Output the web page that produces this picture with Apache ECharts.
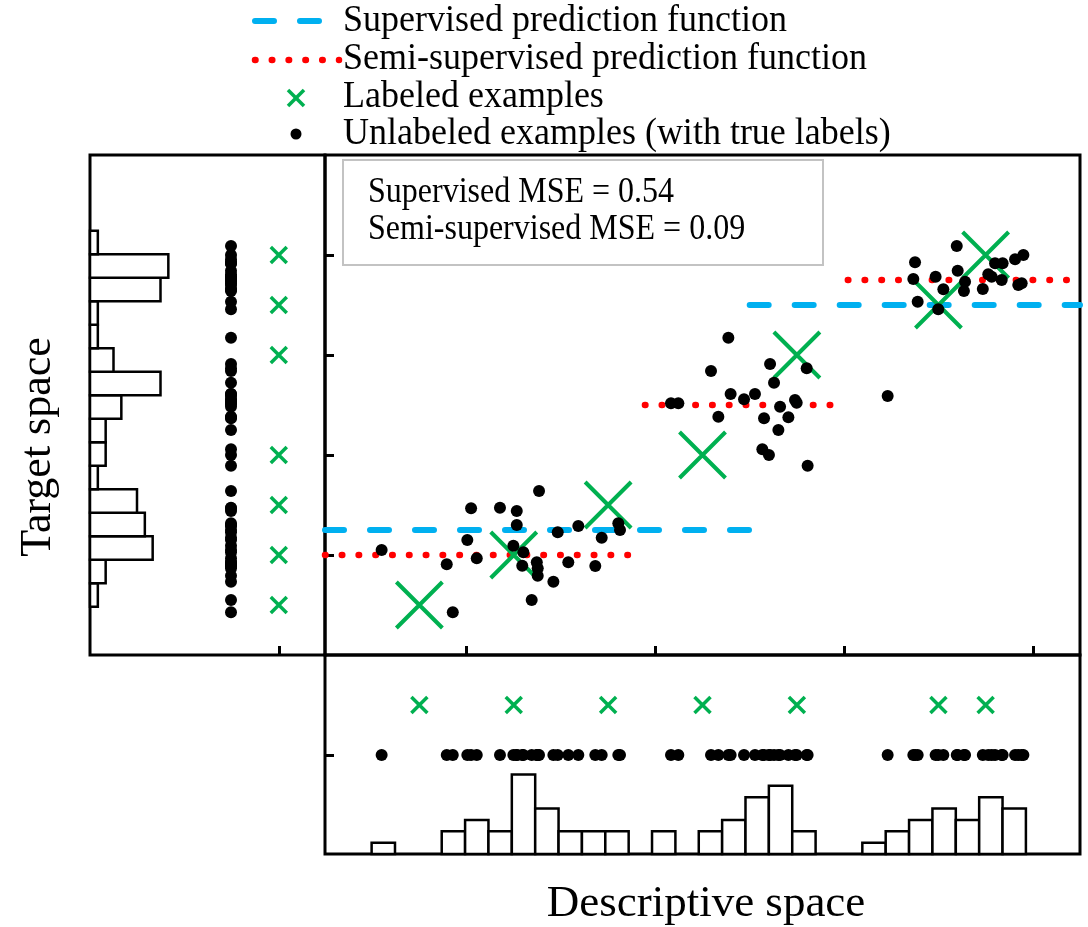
<!DOCTYPE html>
<html><head><meta charset="utf-8">
<script src="https://cdn.jsdelivr.net/npm/echarts@6/dist/echarts.min.js"></script>
<style>html,body{margin:0;padding:0;background:#fff}#c{width:1088px;height:927px}</style>
</head><body><div id="c"></div>
<script>
// ---------------- data ----------------
const labeledX = [0.75, 1.25, 1.75, 2.25, 2.75, 3.5, 3.75];
const labeledY = [0.5, 1, 1.5, 2, 3, 3.5, 4];

const unlabeledX = [
  0.55,0.895,0.927,1.024,1.004,1.054,1.177,1.266,1.266,1.248,1.301,1.295,1.384,1.372,1.377,1.377,1.345,1.46,1.483,1.539,1.592,1.682,1.716,1.804,1.813,
  2.083,2.122,2.295,2.387,2.334,2.399,2.47,2.528,2.608,2.629,2.576,2.661,2.652,2.705,2.74,2.749,2.802,2.567,2.602,2.807,
  3.231,3.376,3.367,3.39,3.499,3.485,3.526,3.597,3.602,3.641,3.635,3.735,3.764,3.8,3.84,3.782,3.835,3.906,3.95,3.923,3.941
];
const unlabeledY = [
  1.05,0.907,0.427,1.467,1.15,0.967,1.473,1.44,1.30,1.093,1.027,0.893,1.64,0.927,0.867,0.793,0.55,0.733,1.227,0.927,1.29,0.89,1.173,1.317,1.25,
  2.517,2.517,2.84,3.173,2.383,2.61,2.557,2.61,2.91,2.723,2.367,2.483,2.25,2.377,2.55,2.523,2.867,2.057,2.0,1.893,
  2.59,3.927,3.76,3.533,3.457,3.783,3.657,4.09,3.843,3.733,3.64,3.66,3.807,3.917,3.917,3.783,3.75,3.957,4.0,3.7,3.717
];

// step functions: [xStart, xEnd, yValue]
const supervisedSteps = [[0.25, 2.5, 1.25], [2.5, 4.25, 3.5]];
const semiSteps = [[0.25, 1.91, 1.0], [1.945, 2.99, 2.5], [3.02, 4.25, 3.75]];

// histogram of descriptive space (bottom)
const xHistStart = 0.497, xHistBin = 0.1238;
const xHistCounts = [1,0,0,2,3,2,7,4,2,2,2,0,2,0,2,3,5,6,2,0,0,1,2,3,4,3,5,4];
// histogram of target space (left), bins from bottom to top
const yHistStart = 0.483, yHistBin = 0.235;
const yHistCounts = [1,2,8,7,6,1,2,2,4,9,3,1,1,9,10,1];

const mainTicks = [1, 2, 3, 4];
const legendLabels = ['Supervised prediction function', 'Semi-supervised prediction function', 'Labeled examples', 'Unlabeled examples (with true labels)'];
const mseLines = ['Supervised MSE = 0.54', 'Semi-supervised MSE = 0.09'];
const xTitle = 'Descriptive space', yTitle = 'Target space';

// ---------------- layout / style ----------------
const FONT = "'Liberation Serif','Times New Roman',serif";
const BLUE = '#00B0F0', RED = '#FF0000', GREEN = '#00B050';
const CROSS = 'path://M0,0L10,10M10,0L0,10';
const leftRugDotX = 18, leftRugCrossX = 24.1;   // positions inside the left panel (count units)
const bottomRugDotY = 8.7, bottomRugCrossY = 13.1; // positions inside the bottom panel

const chart = echarts.init(document.getElementById('c'), null, {renderer: 'canvas'});

const xHistData = xHistCounts.map((c, i) => [xHistStart + i * xHistBin, xHistStart + (i + 1) * xHistBin, c]).filter(d => d[2] > 0);
const yHistData = yHistCounts.map((c, i) => [yHistStart + i * yHistBin, yHistStart + (i + 1) * yHistBin, c]).filter(d => d[2] > 0);

const barStyle = {fill: '#fff', stroke: '#000', lineWidth: 2.5};
const dotStyle = {color: '#000', opacity: 1};
const crossStyle = w => ({color: 'rgba(0,0,0,0)', borderColor: GREEN, borderWidth: w, opacity: 1});

const series = [];
supervisedSteps.forEach(s => series.push({
  type: 'line', xAxisIndex: 0, yAxisIndex: 0, data: [[s[0], s[2]], [s[1], s[2]]],
  symbol: 'none', silent: true, z: 2,
  lineStyle: {color: BLUE, width: 6, type: [19, 26], cap: 'round', opacity: 1}
}));
semiSteps.forEach(s => series.push({
  type: 'line', xAxisIndex: 0, yAxisIndex: 0, data: [[s[0], s[2]], [s[1], s[2]]],
  symbol: 'none', silent: true, z: 2,
  lineStyle: {color: RED, width: 6.5, type: [0.5, 16.3], cap: 'round', opacity: 1}
}));
series.push({
  type: 'scatter', xAxisIndex: 0, yAxisIndex: 0, z: 3, silent: true,
  data: labeledX.map((x, i) => [x, labeledY[i]]),
  symbol: CROSS, symbolSize: 46, itemStyle: crossStyle(4)
});
series.push({
  type: 'scatter', xAxisIndex: 0, yAxisIndex: 0, z: 4, silent: true,
  data: unlabeledX.map((x, i) => [x, unlabeledY[i]]),
  symbol: 'circle', symbolSize: 12, itemStyle: dotStyle
});
// left panel
series.push({
  type: 'custom', xAxisIndex: 1, yAxisIndex: 1, silent: true, data: yHistData,
  encode: {x: 2, y: [0, 1]},
  renderItem: (p, api) => {
    const a = api.coord([0, api.value(0)]), b = api.coord([api.value(2), api.value(1)]);
    return {type: 'rect', shape: {x: a[0], y: b[1], width: b[0] - a[0], height: a[1] - b[1]}, style: barStyle};
  }
});
series.push({
  type: 'scatter', xAxisIndex: 1, yAxisIndex: 1, silent: true,
  data: unlabeledY.map(y => [leftRugDotX, y]), symbolSize: 12, itemStyle: dotStyle
});
series.push({
  type: 'scatter', xAxisIndex: 1, yAxisIndex: 1, silent: true,
  data: labeledY.map(y => [leftRugCrossX, y]), symbol: CROSS, symbolSize: 16, itemStyle: crossStyle(3.5)
});
// bottom panel
series.push({
  type: 'custom', xAxisIndex: 2, yAxisIndex: 2, silent: true, data: xHistData,
  encode: {x: [0, 1], y: 2},
  renderItem: (p, api) => {
    const a = api.coord([api.value(0), 0]), b = api.coord([api.value(1), api.value(2)]);
    return {type: 'rect', shape: {x: a[0], y: b[1], width: b[0] - a[0], height: a[1] - b[1]}, style: barStyle};
  }
});
series.push({
  type: 'scatter', xAxisIndex: 2, yAxisIndex: 2, silent: true,
  data: unlabeledX.map(x => [x, bottomRugDotY]), symbolSize: 12, itemStyle: dotStyle
});
series.push({
  type: 'scatter', xAxisIndex: 2, yAxisIndex: 2, silent: true,
  data: labeledX.map(x => [x, bottomRugCrossY]), symbol: CROSS, symbolSize: 16, itemStyle: crossStyle(3.5)
});

function axis(gridIndex, min, max, ticks) {
  return {
    type: 'value', gridIndex, min, max,
    axisLine: {show: false, onZero: false},
    splitLine: {show: false},
    axisLabel: {show: false, customValues: ticks || []},
    axisTick: ticks ? {show: true, inside: true, length: 9, customValues: ticks, lineStyle: {color: '#000', width: 3}} : {show: false}
  };
}

const gridBase = {show: true, borderColor: '#000', borderWidth: 3, backgroundColor: 'transparent', containLabel: false, outerBoundsMode: 'none'};

const legendG = [];
legendG.push({type: 'line', shape: {x1: 255, y1: 21, x2: 322, y2: 21}, style: {stroke: BLUE, lineWidth: 6, lineDash: [19, 26], lineCap: 'round'}});
legendG.push({type: 'line', shape: {x1: 255, y1: 60, x2: 339, y2: 60}, style: {stroke: RED, lineWidth: 6.5, lineDash: [0.5, 16.3], lineCap: 'round'}});
legendG.push({type: 'line', shape: {x1: 288, y1: 90, x2: 304, y2: 106}, style: {stroke: GREEN, lineWidth: 3.5}});
legendG.push({type: 'line', shape: {x1: 304, y1: 90, x2: 288, y2: 106}, style: {stroke: GREEN, lineWidth: 3.5}});
legendG.push({type: 'circle', shape: {cx: 296, cy: 134, r: 5.5}, style: {fill: '#000'}});
[21, 59, 97, 134].forEach((y, i) => legendG.push({
  type: 'text', x: 343, y, scaleY: 1.06, style: {text: legendLabels[i], font: '36px ' + FONT, fill: '#000', textAlign: 'left', textVerticalAlign: 'middle'}
}));
legendG.push({type: 'rect', shape: {x: 343, y: 160, width: 480, height: 105}, style: {fill: '#fff', stroke: '#c3c3c3', lineWidth: 2}, z: 10});
[192.5, 229.5].forEach((y, i) => legendG.push({
  type: 'text', x: 368, y, z: 11, scaleY: 1.1, style: {text: mseLines[i], font: '32px ' + FONT, fill: '#000', textAlign: 'left', textVerticalAlign: 'middle'}
}));
legendG.push({type: 'text', x: 38, y: 447, rotation: Math.PI / 2, style: {text: yTitle, font: '44px ' + FONT, fill: '#000', textAlign: 'center', textVerticalAlign: 'middle'}});
legendG.push({type: 'text', x: 706, y: 904, style: {text: xTitle, font: '45px ' + FONT, fill: '#000', textAlign: 'center', textVerticalAlign: 'middle'}});

chart.setOption({
  animation: false,
  backgroundColor: '#fff',
  grid: [
    Object.assign({left: 325, top: 155, width: 755, height: 500}, gridBase),
    Object.assign({left: 90, top: 155, width: 235, height: 500}, gridBase),
    Object.assign({left: 325, top: 655, width: 755, height: 199}, gridBase)
  ],
  xAxis: [axis(0, 0.25, 4.25, mainTicks), axis(1, 0, 30, [leftRugCrossX]), axis(2, 0.25, 4.25, null)],
  yAxis: [axis(0, 0, 5, mainTicks), axis(1, 0, 5, null), axis(2, 0, 17.5, [bottomRugDotY])],
  graphic: legendG,
  series
});
</script>
</body></html>
